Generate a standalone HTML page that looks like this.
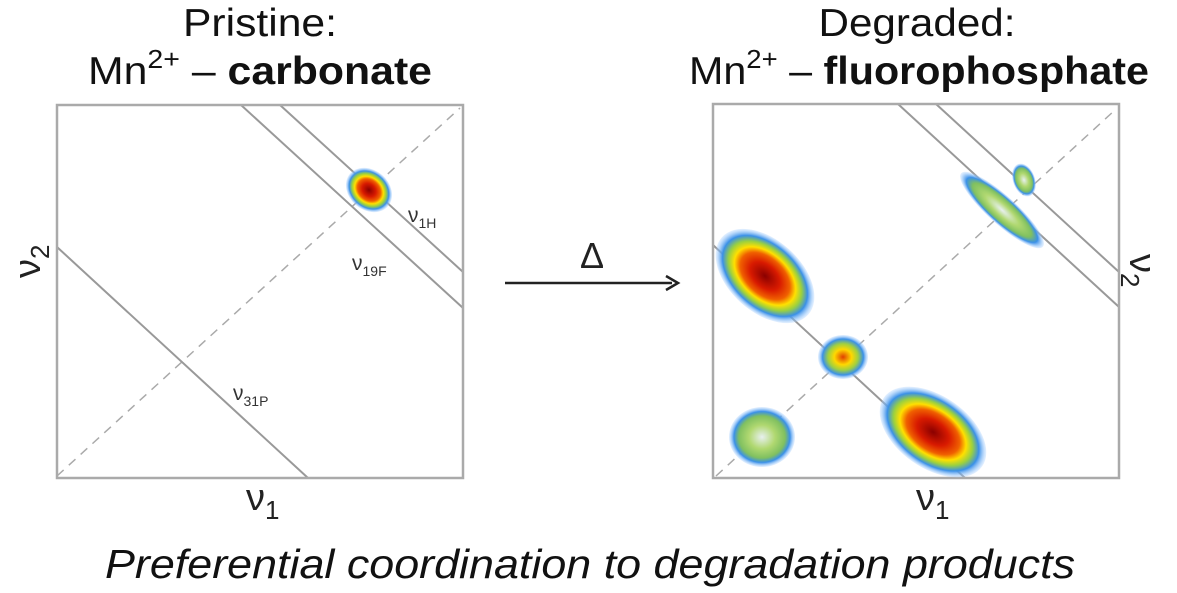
<!DOCTYPE html>
<html><head><meta charset="utf-8"><style>
html,body{margin:0;padding:0;background:#fff;}
svg{display:block;font-family:"Liberation Sans",sans-serif;}
</style></head><body>
<svg width="1177" height="593" viewBox="0 0 1177 593" xmlns="http://www.w3.org/2000/svg">
<defs>
<radialGradient id="hot">
<stop offset="0" stop-color="#8a0000"/><stop offset="0.3" stop-color="#d81a00"/><stop offset="0.5" stop-color="#f06000"/><stop offset="0.62" stop-color="#ffe000"/><stop offset="0.74" stop-color="#9ad040"/><stop offset="0.86" stop-color="#3a90e8"/><stop offset="1" stop-color="#a8d0ff" stop-opacity="0.3"/>
</radialGradient>
<radialGradient id="mid">
<stop offset="0" stop-color="#e04000"/><stop offset="0.35" stop-color="#ffd800"/><stop offset="0.6" stop-color="#a0d040"/><stop offset="0.82" stop-color="#3a90e8"/><stop offset="1" stop-color="#a8d0ff" stop-opacity="0.3"/>
</radialGradient>
<radialGradient id="grn">
<stop offset="0" stop-color="#e8f0f0"/><stop offset="0.4" stop-color="#b0d870"/><stop offset="0.7" stop-color="#80c060"/><stop offset="0.85" stop-color="#3a90e8"/><stop offset="1" stop-color="#a8d0ff" stop-opacity="0.3"/>
</radialGradient>
</defs>

<g font-size="39" text-anchor="middle" fill="#111">
<text x="260" y="36" textLength="154" lengthAdjust="spacingAndGlyphs">Pristine:</text>
<text x="260" y="84" textLength="344" lengthAdjust="spacingAndGlyphs">Mn<tspan font-size="26" dy="-16">2+</tspan><tspan dy="16"> – </tspan><tspan font-weight="bold">carbonate</tspan></text>
<text x="917" y="36" textLength="197" lengthAdjust="spacingAndGlyphs">Degraded:</text>
<text x="919" y="84" textLength="460" lengthAdjust="spacingAndGlyphs">Mn<tspan font-size="26" dy="-16">2+</tspan><tspan dy="16"> – </tspan><tspan font-weight="bold">fluorophosphate</tspan></text>
</g>

<!-- left plot -->
<g stroke="#aaa" fill="none">
<line x1="57" y1="476" x2="460" y2="108" stroke-dasharray="9,7" stroke-width="1.5"/>
<g stroke="#999" stroke-width="2">
<line x1="241" y1="105" x2="463" y2="308"/>
<line x1="280" y1="105" x2="463" y2="272"/>
<line x1="57" y1="247" x2="308" y2="478"/>
</g>
<rect x="57" y="105" width="406" height="373" stroke="#aaa" stroke-width="2.5"/>
</g>
<ellipse cx="369" cy="190" rx="25" ry="20" fill="url(#hot)" transform="rotate(40 369 190)"/>
<g font-size="21" fill="#333">
<text x="408" y="222">ν<tspan font-size="14" dy="6">1H</tspan></text>
<text x="352" y="270">ν<tspan font-size="14" dy="6">19F</tspan></text>
<text x="233" y="400">ν<tspan font-size="14" dy="6">31P</tspan></text>
</g>
<text x="246" y="510" font-size="38" fill="#222">ν<tspan font-size="26" dy="9">1</tspan></text>
<text transform="translate(40 278) rotate(-90)" font-size="38" fill="#222">ν<tspan font-size="26" dy="9">2</tspan></text>

<!-- arrow -->
<line x1="505" y1="283" x2="672" y2="283" stroke="#222" stroke-width="2.5"/>
<path d="M666 276 L678 283 L666 290" stroke="#222" stroke-width="2.5" fill="none"/>
<text x="592" y="268" font-size="36" text-anchor="middle" fill="#222">Δ</text>

<!-- right plot -->
<g stroke="#aaa" fill="none">
<line x1="716" y1="476" x2="1115" y2="110" stroke-dasharray="9,7" stroke-width="1.5"/>
<g stroke="#999" stroke-width="2">
<line x1="898" y1="104" x2="1119" y2="307"/>
<line x1="936" y1="104" x2="1119" y2="272"/>
<line x1="713" y1="245" x2="965" y2="478"/>
</g>
<rect x="713" y="104" width="406" height="374" stroke="#aaa" stroke-width="2.5"/>
</g>
<ellipse cx="765" cy="276" rx="58" ry="36" fill="url(#hot)" transform="rotate(42 765 276)"/>
<ellipse cx="933" cy="432" rx="60" ry="36" fill="url(#hot)" transform="rotate(35 933 432)"/>
<ellipse cx="843" cy="357" rx="25" ry="22" fill="url(#mid)"/>
<ellipse cx="762" cy="437" rx="33" ry="30" fill="url(#grn)"/>
<ellipse cx="1002" cy="210" rx="55" ry="14" fill="url(#grn)" transform="rotate(42 1002 210)"/>
<ellipse cx="1024" cy="180" rx="11" ry="17" fill="url(#grn)" transform="rotate(-20 1024 180)"/>
<text x="916" y="510" font-size="38" fill="#222">ν<tspan font-size="26" dy="9">1</tspan></text>
<text transform="translate(1130 254) rotate(90)" font-size="38" fill="#222">ν<tspan font-size="26" dy="9">2</tspan></text>

<text x="590" y="578" font-size="41" font-style="italic" text-anchor="middle" fill="#111" textLength="970" lengthAdjust="spacingAndGlyphs">Preferential coordination to degradation products</text>
</svg>
</body></html>
